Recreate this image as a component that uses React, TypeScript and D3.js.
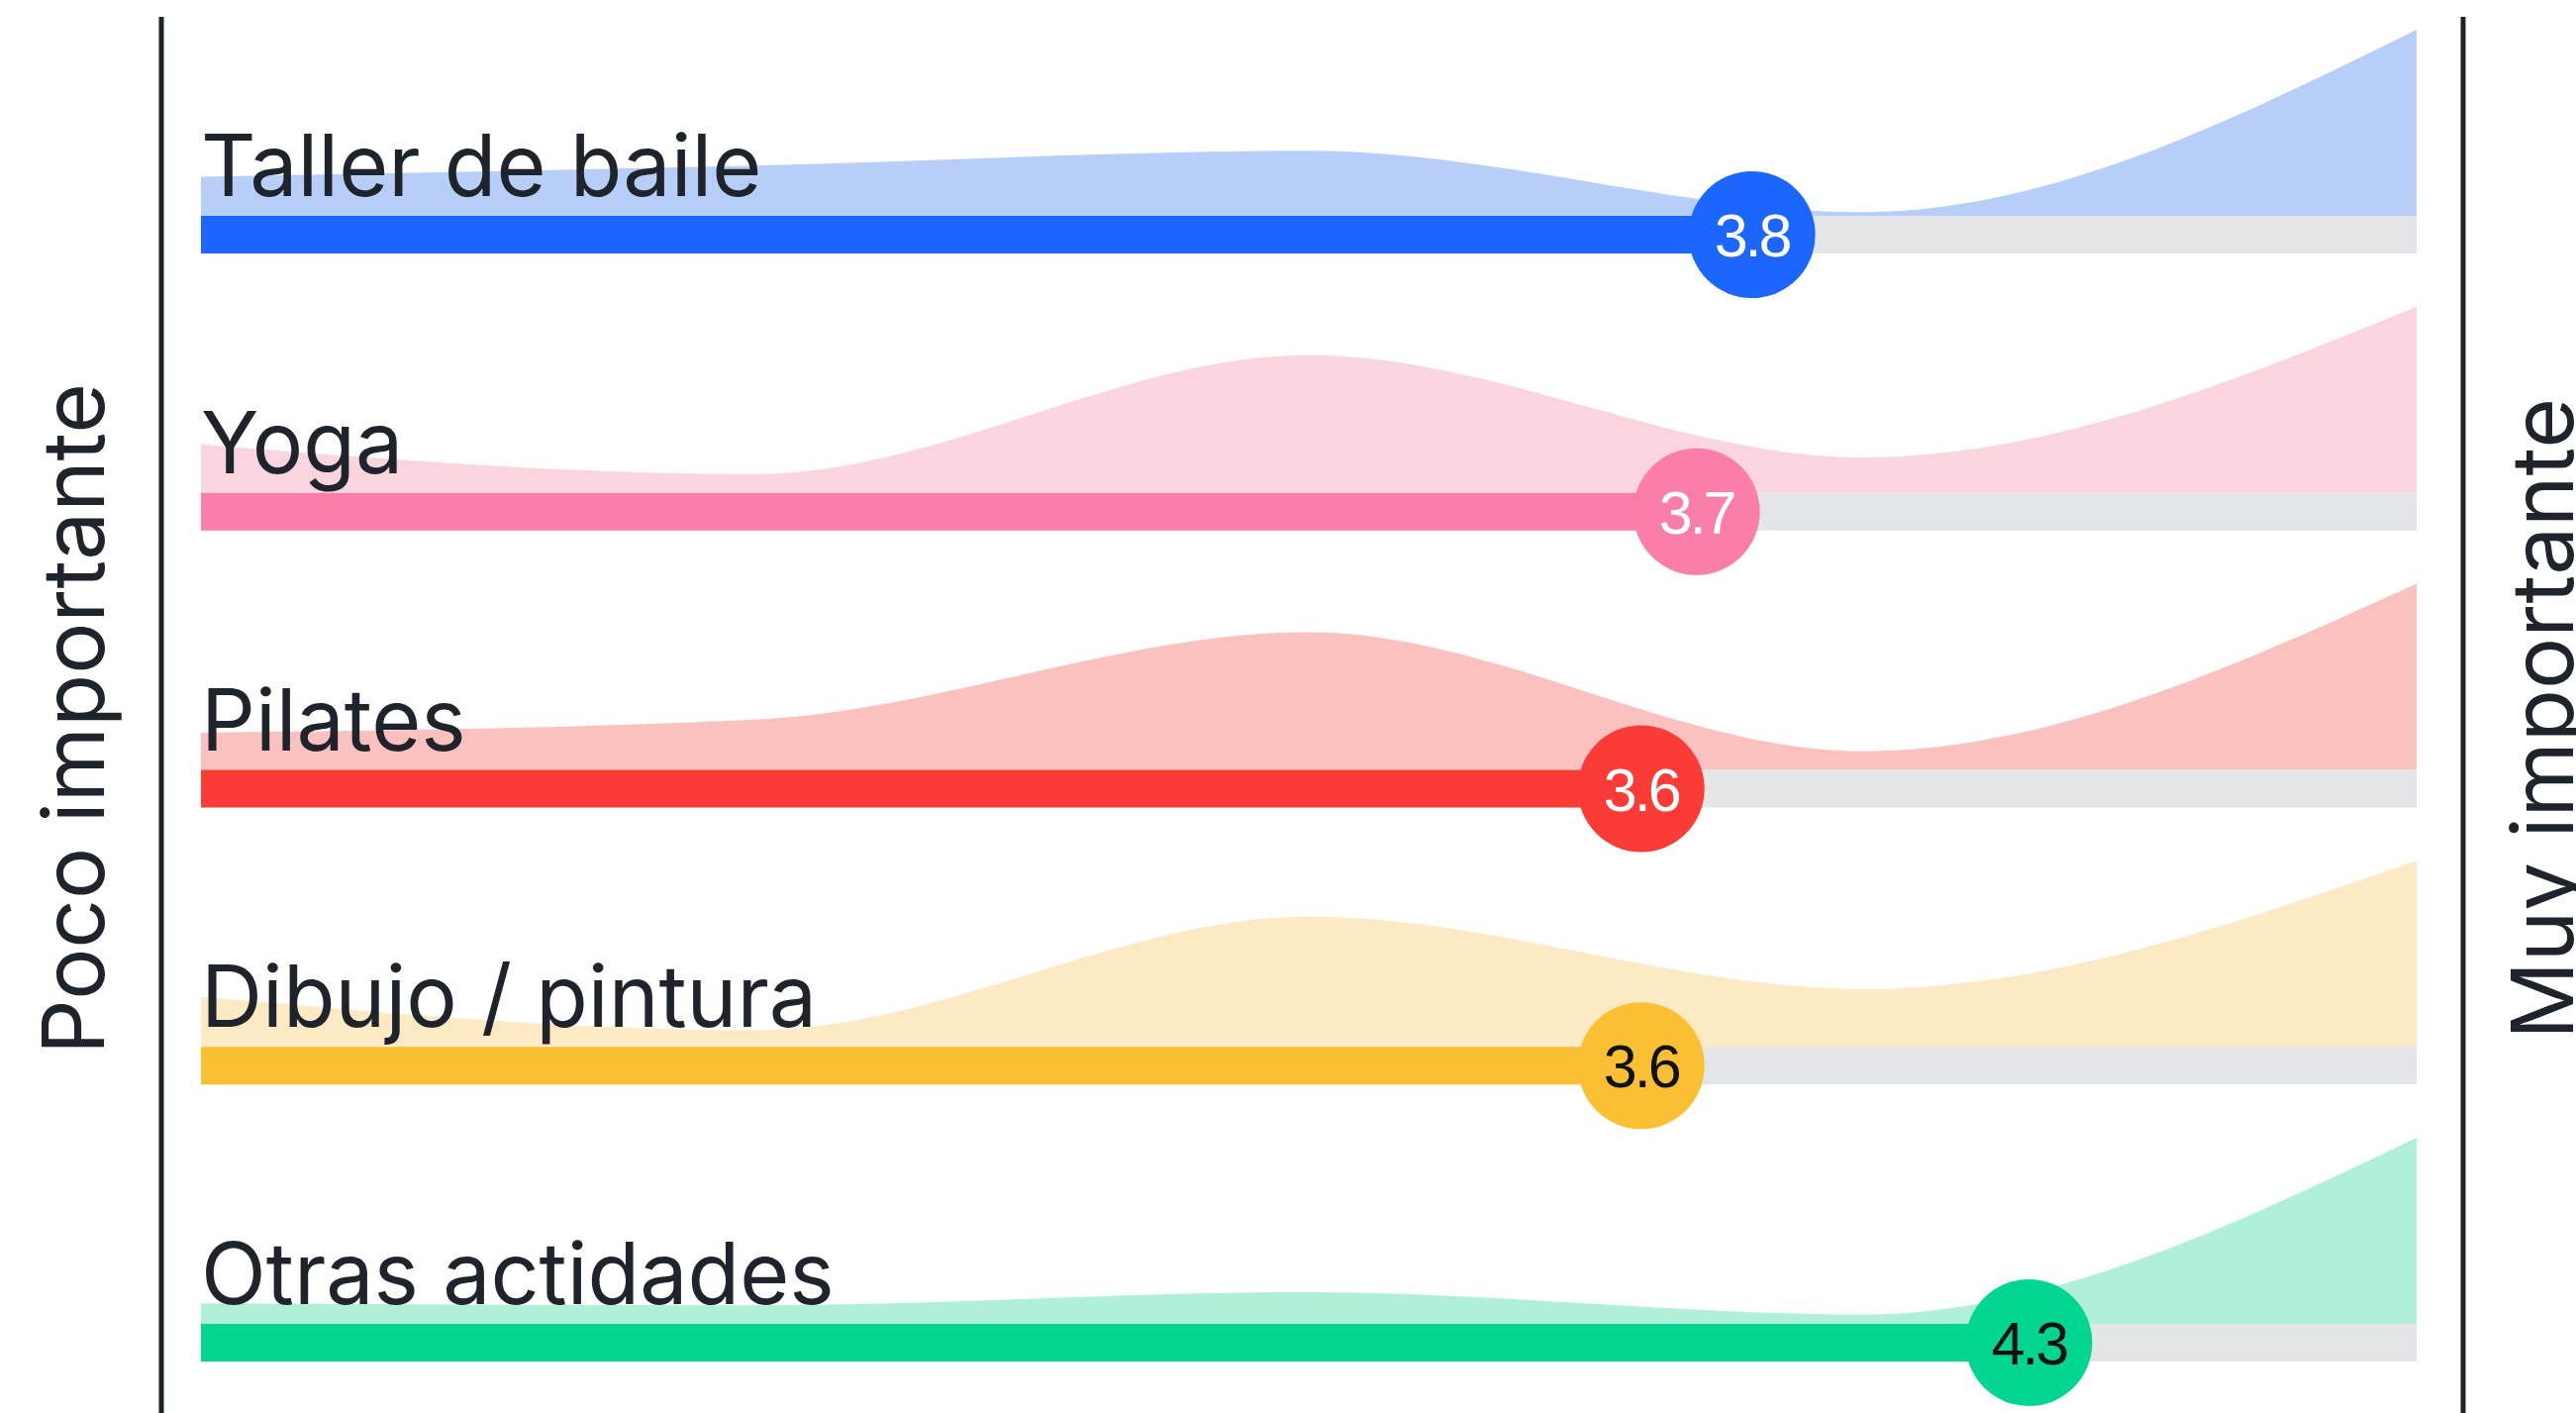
import * as d3 from "d3";
import React from "react";

const categories = ["Taller de baile", "Yoga", "Pilates", "Dibujo / pintura", "Otras actidades"];
const means = [3.8, 3.7, 3.6, 3.6, 4.3];
const scalePoints = [1, 2, 3, 4, 5];

// relative share of answers per score (1..5), read from the ridge shapes
const tallerDist = [0.21, 0.27, 0.35, 0.02, 1.0];
const yogaDist = [0.26, 0.1, 0.74, 0.19, 1.0];
const pilatesDist = [0.2, 0.27, 0.74, 0.1, 1.0];
const dibujoDist = [0.27, 0.09, 0.7, 0.31, 1.0];
const otrasDist = [0.11, 0.1, 0.17, 0.05, 1.0];

const barColors = ["#1a66ff", "#fb7eaa", "#fa3b36", "#fbbf33", "#00d591"];
const areaColors = ["#b6cef8", "#fad4de", "#fbc1bf", "#fde9c4", "#b0f0d9"];
const labelColors = ["#ffffff", "#ffffff", "#ffffff", "#111111", "#111111"];

const leftLabel = "Poco importante";
const rightLabel = "Muy importante";

const W = 2602;
const H = 1427;
const ink = "#1f232b";
const font = "Inter, 'Noto Sans', sans-serif";

export default function App() {
  const dists = [tallerDist, yogaDist, pilatesDist, dibujoDist, otrasDist];

  const x = d3.scaleLinear().domain([1, 5]).range([203, 2441]);
  const y = d3.scalePoint<string>().domain(categories).range([237, 1356]);
  const h = d3.scaleLinear().domain([0, 1]).range([0, 188]);

  const barH = 38;
  const r = 64;

  return (
    <div style={{ position: "fixed", left: 0, top: 0 }}>
      <svg width={W} height={H} style={{ display: "block", background: "#fff" }}>
        {categories.map((cat, i) => {
          const cy = y(cat) as number;
          const base = cy - barH / 2;
          const area = d3
            .area<number>()
            .x((d) => x(d))
            .y0(base)
            .y1((d, j) => base - h(dists[i][j]))
            .curve(d3.curveMonotoneX);
          return (
            <g key={cat}>
              <path d={area(scalePoints) || ""} fill={areaColors[i]} />
              <rect x={x(1)} y={base} width={x(5) - x(1)} height={barH} fill="#e4e5e8" />
              <rect x={x(1)} y={base} width={x(means[i]) - x(1)} height={barH} fill={barColors[i]} />
              <text x={x(1)} y={base - 20} fontFamily={font} fontSize={86} letterSpacing={0} fill={ink}>
                {cat}
              </text>
              <circle cx={x(means[i])} cy={cy} r={r} fill={barColors[i]} />
              <text
                x={x(means[i])}
                y={cy + 22}
                textAnchor="middle"
                fontFamily="'Liberation Sans', Arial, sans-serif"
                fontSize={61}
                letterSpacing={-3}
                fill={labelColors[i]}
              >
                {means[i].toFixed(1)}
              </text>
            </g>
          );
        })}

        <line x1={163} x2={163} y1={17} y2={H} stroke={ink} strokeWidth={5} />
        <line x1={2488} x2={2488} y1={17} y2={H} stroke={ink} strokeWidth={5} />

        <text
          transform={`translate(105,726) rotate(-90)`}
          textAnchor="middle"
          fontFamily={font}
          fontSize={87}
          fill={ink}
        >
          {leftLabel}
        </text>
        <text
          transform={`translate(2599,726) rotate(-90)`}
          textAnchor="middle"
          fontFamily={font}
          fontSize={87}
          fill={ink}
        >
          {rightLabel}
        </text>
      </svg>
    </div>
  );
}
